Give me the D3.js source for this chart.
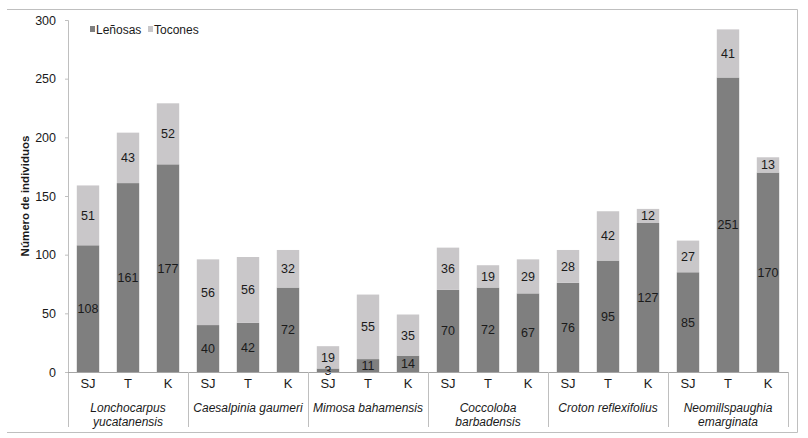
<!DOCTYPE html>
<html>
<head>
<meta charset="utf-8" />
<script src="https://d3js.org/d3.v7.min.js"></script>
<style>
  body { margin: 0; background: #fff; font-family: "Liberation Sans", Arial, sans-serif; }
  svg text { fill: #1a1a1a; }
</style>
</head>
<body>
<div id="chart"></div>
<script>
// species groups (two-line labels split on "|")
const species = ["Lonchocarpus|yucatanensis", "Caesalpinia gaumeri", "Mimosa bahamensis",
                 "Coccoloba|barbadensis", "Croton reflexifolius", "Neomillspaughia|emarginata"];
const sites = ["SJ", "T", "K"];
const lenosas = [108, 161, 177, 40, 42, 72, 3, 11, 14, 70, 72, 67, 76, 95, 127, 85, 251, 170];
const tocones = [51, 43, 52, 56, 56, 32, 19, 55, 35, 36, 19, 29, 28, 42, 12, 27, 41, 13];
const yTicks = [0, 50, 100, 150, 200, 250, 300];

const width = 808, height = 438;
const mLeft = 68, mRight = 788, mTop = 20, mBottom = 372;
const colDark = "#7f7f7f", colLight = "#c9c7c9", lineCol = "#bfbfbf";

const rows = [];
species.forEach((sp, gi) => sites.forEach((s, si) => {
  const i = gi * 3 + si;
  rows.push({ key: i, site: s, group: gi, len: lenosas[i], toc: tocones[i] });
}));

const svg = d3.select("#chart").append("svg")
  .attr("width", width).attr("height", height);

// frame
svg.append("path")
  .attr("d", `M7,9.5H797.5V432.5H7`)
  .attr("fill", "none").attr("stroke", lineCol);

const x = d3.scaleBand().domain(rows.map(d => d.key)).range([mLeft, mRight]).paddingInner(0.44).paddingOuter(0.22);
const y = d3.scaleLinear().domain([0, 300]).range([mBottom, mTop]);

// y axis
const yAxis = svg.append("g").attr("transform", `translate(${mLeft},0)`)
  .call(d3.axisLeft(y).tickValues(yTicks).tickSize(3).tickPadding(9));
yAxis.select(".domain").attr("stroke", lineCol);
yAxis.selectAll(".tick line").attr("stroke", lineCol);
yAxis.selectAll("text").attr("font-size", 12.5).attr("font-family", "Liberation Sans, Arial, sans-serif").attr("fill", "#1a1a1a");
// extend axis line below baseline
svg.append("line").attr("x1", mLeft + 0.5).attr("x2", mLeft + 0.5).attr("y1", mBottom).attr("y2", 427).attr("stroke", lineCol);

svg.append("text")
  .attr("transform", `translate(29,${(mTop + mBottom) / 2}) rotate(-90)`)
  .attr("text-anchor", "middle").attr("font-size", 11.5).attr("font-weight", "bold")
  .text("Número de individuos");

// bars
const g = svg.append("g");
rows.forEach(d => {
  const bx = x(d.key), bw = x.bandwidth();
  g.append("rect").attr("x", bx).attr("width", bw)
    .attr("y", y(d.len)).attr("height", y(0) - y(d.len)).attr("fill", colDark);
  g.append("rect").attr("x", bx).attr("width", bw)
    .attr("y", y(d.len + d.toc)).attr("height", y(d.len) - y(d.len + d.toc)).attr("fill", colLight);
  g.append("text").attr("x", bx + bw / 2).attr("y", y(d.len / 2) + 4.5)
    .attr("text-anchor", "middle").attr("font-size", 12.5).text(d.len);
  g.append("text").attr("x", bx + bw / 2).attr("y", y(d.len + d.toc / 2) + 4.5)
    .attr("text-anchor", "middle").attr("font-size", 12.5).text(d.toc);
});

// x baseline
svg.append("line").attr("x1", mLeft).attr("x2", mRight).attr("y1", mBottom + 0.5).attr("y2", mBottom + 0.5).attr("stroke", "#a6a6a6");

// site labels
rows.forEach(d => {
  svg.append("text").attr("x", x(d.key) + x.bandwidth() / 2).attr("y", 388)
    .attr("text-anchor", "middle").attr("font-size", 13).text(d.site);
});

// group separators and labels
const groupW = (mRight - mLeft) / species.length;
species.forEach((sp, gi) => {
  const gx = mLeft + groupW * (gi + 1);
  svg.append("line").attr("x1", Math.round(gx) + 0.5).attr("x2", Math.round(gx) + 0.5)
    .attr("y1", mBottom).attr("y2", 427).attr("stroke", lineCol);
  const lines = sp.split("|");
  lines.forEach((ln, li) => {
    svg.append("text").attr("x", mLeft + groupW * (gi + 0.5)).attr("y", 412 + li * 14)
      .attr("text-anchor", "middle").attr("font-size", 12).attr("font-style", "italic").text(ln);
  });
});

// legend
const legend = svg.append("g").attr("transform", "translate(90,32)");
[["Leñosas", colDark, 0], ["Tocones", colLight, 58]].forEach(([name, c, dx]) => {
  legend.append("rect").attr("x", dx).attr("y", -6).attr("width", 5).attr("height", 6).attr("fill", c);
  legend.append("text").attr("x", dx + 6).attr("y", 1.5).attr("font-size", 12).text(name);
});
</script>
</body>
</html>
